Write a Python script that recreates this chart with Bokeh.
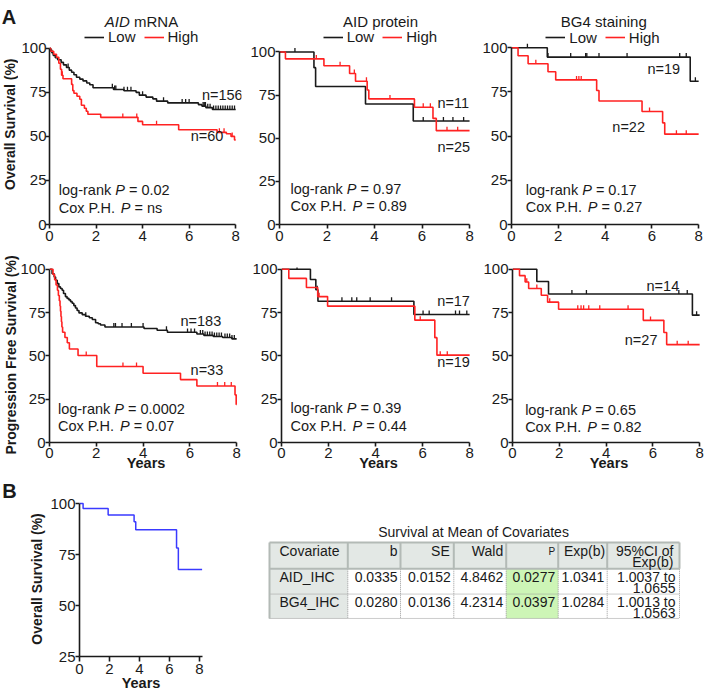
import math
from bokeh.plotting import figure
from bokeh.models import Range1d, Label, Legend, LegendItem, FixedTicker, Title
from bokeh.layouts import row, column
from bokeh.embed import file_html
from bokeh.resources import INLINE
from bokeh.core.properties import value

# ---------------- data ----------------
year_ticks = [0, 2, 4, 6, 8]
surv_ticks = [0, 25, 50, 75, 100]
surv_ticks_b = [25, 50, 75, 100]

# A, top row: overall survival
os_mrna_low_t = [0, 0.05, 0.1, 0.16, 0.25, 0.35, 0.5, 0.6, 0.73, 0.85, 0.95, 1.05, 1.16, 1.3, 1.44, 1.6, 1.73, 1.87, 2.75, 3.2, 3.72, 3.86, 4.15, 4.44, 4.6, 5.08, 6.4, 6.55, 6.72, 7.0, 8.0]
os_mrna_low_s = [100, 99.0, 97.5, 96.0, 94.6, 93.5, 92.0, 90.6, 89.1, 87.6, 86.4, 85.0, 83.6, 82.5, 81.5, 80.3, 79.3, 77.6, 76.6, 75.9, 75.0, 73.4, 72.3, 71.3, 70.0, 69.0, 68.0, 67.2, 66.3, 65.3, 65.3]
os_mrna_low_cens = [0.8, 2.7, 2.8, 2.85, 3.2, 3.35, 3.5, 4.0, 4.9, 5.7, 5.85, 6.0, 6.6, 6.65, 6.7, 6.8, 6.9, 7.05, 7.15, 7.25, 7.35, 7.45, 7.55, 7.65, 7.75, 7.85, 7.95]
os_mrna_high_t = [0, 0.05, 0.18, 0.3, 0.4, 0.47, 0.52, 0.58, 0.95, 1.0, 1.05, 1.18, 1.3, 1.37, 1.5, 1.58, 1.65, 2.2, 3.8, 4.0, 5.55, 7.2, 7.6, 7.8, 7.95, 8.0]
os_mrna_high_s = [100, 98.3, 96.6, 94.9, 91.5, 88.1, 84.7, 82.7, 79.5, 76.0, 74.5, 72.8, 71.1, 67.7, 66.0, 64.3, 62.6, 60.8, 58.5, 56.6, 53.8, 52.3, 51.5, 50.0, 48.0, 48.0]
os_mrna_high_cens = [0.55, 3.15, 3.75, 4.6, 7.3, 7.5, 7.85]

os_prot_low_t = [0, 1.45, 1.52, 3.62, 5.63, 8.0]
os_prot_low_s = [100, 90.9, 80.0, 69.8, 60.0, 60.0]
os_prot_low_cens = [0.65, 6.05, 6.9, 7.3, 7.75]
os_prot_high_t = [0, 0.25, 1.87, 2.95, 3.2, 3.69, 3.76, 5.68, 6.46, 6.6, 8.0]
os_prot_high_s = [100, 96.0, 92.0, 87.5, 83.0, 78.0, 72.8, 68.0, 61.5, 54.4, 54.4]
os_prot_high_cens = [1.55, 2.55, 3.15, 3.66, 4.65, 6.05, 6.35, 7.05, 7.5]

os_bg4_low_t = [0, 1.53, 7.64, 8.0]
os_bg4_low_s = [100, 94.7, 81.0, 81.0]
os_bg4_low_cens = [0.68, 1.56, 2.53, 3.17, 3.22, 3.74, 4.94, 7.19, 7.47, 7.86]
os_bg4_high_t = [0, 0.28, 0.71, 1.56, 1.89, 3.64, 3.74, 5.58, 6.46, 6.55, 8.0]
os_bg4_high_s = [100, 95.5, 90.9, 86.4, 81.8, 75.8, 69.9, 63.9, 57.5, 51.1, 51.1]
os_bg4_high_cens = [1.04, 2.78, 2.88, 2.98, 5.9, 7.05, 7.47]

# A, bottom row: progression free survival
pfs_mrna_low_t = [0, 0.11, 0.2, 0.26, 0.33, 0.4, 0.47, 0.54, 0.6, 0.68, 0.75, 0.83, 0.9, 0.97, 1.04, 1.11, 1.18, 1.26, 1.4, 1.54, 1.7, 1.83, 1.97, 2.08, 2.18, 2.37, 4.04, 4.6, 5.04, 6.3, 6.6, 7.0, 7.4, 7.8, 8.0]
pfs_mrna_low_s = [100, 97.4, 95.5, 93.6, 91.7, 89.8, 88.9, 87.9, 86.0, 84.2, 83.2, 82.3, 81.3, 80.4, 79.0, 77.6, 76.2, 74.8, 73.8, 72.9, 72.0, 71.0, 69.1, 68.5, 67.8, 66.7, 65.8, 64.8, 63.6, 62.6, 61.8, 61.2, 60.6, 59.8, 59.8]
pfs_mrna_low_cens = [1.55, 2.75, 2.82, 3.1, 3.5, 4.0, 5.0, 5.9, 6.05, 6.2, 6.45, 6.55, 6.65, 6.75, 6.85, 6.95, 7.05, 7.15, 7.25, 7.35, 7.5, 7.6, 7.7, 7.8, 7.9]
pfs_mrna_high_t = [0, 0.15, 0.22, 0.28, 0.34, 0.38, 0.42, 0.45, 0.47, 0.49, 0.51, 0.53, 0.56, 0.66, 0.76, 0.85, 1.22, 2.02, 4.0, 5.6, 6.3, 7.93, 7.98, 8.0]
pfs_mrna_high_s = [100, 97.0, 93.9, 90.9, 87.9, 84.8, 81.8, 78.8, 75.8, 72.7, 69.7, 66.7, 63.6, 60.6, 57.6, 54.0, 50.2, 43.9, 40.0, 36.3, 32.6, 27.5, 22.0, 22.0]
pfs_mrna_high_cens = [1.57, 3.14, 3.72, 7.18, 7.49, 7.77]

pfs_prot_low_t = [0, 1.23, 1.46, 1.55, 5.63, 8.0]
pfs_prot_low_s = [100, 94.1, 88.2, 81.5, 73.9, 73.9]
pfs_prot_low_cens = [0.66, 1.52, 2.57, 2.99, 3.2, 3.77, 4.68, 6.02, 6.28, 7.4, 7.57, 7.88]
pfs_prot_high_t = [0, 0.31, 1.06, 1.54, 1.96, 5.67, 6.52, 6.61, 8.0]
pfs_prot_high_s = [100, 94.7, 89.5, 84.2, 78.7, 70.6, 60.5, 50.4, 50.4]
pfs_prot_high_cens = [1.6, 5.9, 6.75, 7.05]

pfs_bg4_low_t = [0, 1.04, 1.54, 7.69, 8.0]
pfs_bg4_low_s = [100, 92.9, 85.7, 73.5, 73.5]
pfs_bg4_low_cens = [2.54, 3.16, 7.11, 7.47, 7.87]
pfs_bg4_high_t = [0, 0.3, 0.54, 0.69, 1.23, 1.5, 1.97, 5.59, 6.47, 6.59, 8.0]
pfs_bg4_high_s = [100, 96.3, 92.6, 88.9, 85.0, 81.0, 76.9, 70.5, 63.5, 56.5, 56.5]
pfs_bg4_high_cens = [0.61, 1.04, 1.59, 2.79, 2.93, 3.04, 3.26, 3.73, 4.94, 5.9, 7.04, 7.51]

# B: survival at mean of covariates
b_t = [0, 0.24, 1.91, 3.64, 3.75, 6.47, 6.59, 8.18]
b_s = [100, 97.6, 94.4, 91.1, 87.1, 78.2, 67.7, 67.7]

panel_titles = ["mRNA", "AID protein", "BG4 staining"]
n_labels = [("n=156", "n=60"), ("n=11", "n=25"), ("n=19", "n=22"),
            ("n=183", "n=33"), ("n=17", "n=19"), ("n=14", "n=27")]
logrank_p = ["= 0.02", "= 0.97", "= 0.17", "= 0.0002", "= 0.39", "= 0.65"]
cox_p = ["= ns", "= 0.89", "= 0.27", "= 0.07", "= 0.44", "= 0.82"]

tbl_title = "Survival at Mean of  Covariates"
tbl_header = ["Covariate", "b", "SE", "Wald", "P", "Exp(b)", "95%CI of"]
tbl_header2 = "Exp(b)"
tbl_cov = ["AID_IHC", "BG4_IHC"]
tbl_b = ["0.0335", "0.0280"]
tbl_se = ["0.0152", "0.0136"]
tbl_wald = ["4.8462", "4.2314"]
tbl_p = ["0.0277", "0.0397"]
tbl_expb = ["1.0341", "1.0284"]
tbl_ci_lo = ["1.0037 to", "1.0013 to"]
tbl_ci_hi = ["1.0655", "1.0563"]

# ---------------- styling / layout helpers ----------------
FONT = "Liberation Sans"
INK = "#1a1a1a"
RED = "#ff2222"
BLUE = "#3a3aff"
FSN = 14.5
FS = "14.5px"
TICK_FS = "15px"

AW = {' ': 278, '%': 889, '(': 333, ')': 333, '-': 333, '.': 278, '=': 584, '_': 556,
      'A': 667, 'B': 667, 'C': 722, 'D': 722, 'G': 778, 'H': 722, 'I': 278, 'L': 556,
      'M': 833, 'N': 722, 'P': 667, 'R': 722, 'S': 667,
      'a': 556, 'b': 556, 'c': 500, 'd': 556, 'e': 556, 'f': 278, 'g': 556, 'h': 556,
      'i': 222, 'k': 500, 'l': 222, 'm': 833, 'n': 556, 'o': 556, 'p': 556, 'r': 333,
      's': 500, 't': 278, 'u': 556, 'v': 500, 'w': 722, 'x': 500}
def tw(s, fs): return sum(AW.get(c, 556) for c in s) * fs / 1000.0


def surv_at(ts, ss, t):
    v = ss[0]
    for a, b in zip(ts, ss):
        if a <= t:
            v = b
    return v


def blank(w, h, xr, yr):
    f = figure(width=w, height=h, x_range=Range1d(*xr), y_range=Range1d(*yr),
               min_border=0, x_axis_location=None, y_axis_location=None, title_location=None,
               output_backend="svg", toolbar_location=None)
    f.grid.visible = False
    f.outline_line_color = None
    return f


def make_km(box, xpix, ypix, xr, ylo, ytop=None, yhi=101, yticks=surv_ticks, ybound=(0, 100)):
    bx0, by0, bx1, by1 = box
    ux = (xpix[1] - xpix[0]) / 8.0
    (va, pa), (vb, pb) = ypix
    uy = (pa - pb) / (vb - va)
    if ytop is not None:
        yhi = va + (pa - ytop) / uy
    fl = xpix[0] + xr[0] * ux
    fr = xpix[0] + xr[1] * ux
    fb = pa - (ylo - va) * uy
    ft = pa - (yhi - va) * uy
    p = figure(width=bx1 - bx0, height=by1 - by0,
               min_border_left=int(round(fl - bx0)), min_border_right=int(round(bx1 - fr)),
               min_border_top=int(round(ft - by0)), min_border_bottom=int(round(by1 - fb)),
               x_range=Range1d(*xr), y_range=Range1d(ylo, yhi), title_location=None,
               output_backend="svg", toolbar_location=None)
    p.grid.visible = False
    p.outline_line_color = None
    p.background_fill_color = "white"
    p.border_fill_color = "white"
    for ax in (p.xaxis[0], p.yaxis[0]):
        ax.axis_line_width = 1.6
        ax.axis_line_color = INK
        ax.major_tick_line_width = 1.6
        ax.major_tick_line_color = INK
        ax.major_tick_out = 4
        ax.major_tick_in = 0
        ax.minor_tick_line_color = None
        ax.major_label_text_font = FONT
        ax.major_label_text_font_size = TICK_FS
        ax.major_label_text_color = INK
        ax.axis_label_text_font = FONT
        ax.axis_label_text_font_style = "bold"
        ax.axis_label_text_font_size = FS
        ax.axis_label_text_color = INK
    p.xaxis.ticker = FixedTicker(ticks=year_ticks)
    p.yaxis.ticker = FixedTicker(ticks=yticks)
    p.xaxis.major_label_standoff = 1
    p.yaxis.major_label_standoff = 0
    p.xaxis.bounds = (0, 8)
    p.yaxis.bounds = ybound
    geom = dict(fl=fl, fb=fb, uy=uy)
    return p, geom


def curve(p, g, ts, ss, cens, color):
    r = p.step(ts, ss, mode="after", line_color=color, line_width=1.6)
    cy = [surv_at(ts, ss, c) for c in cens]
    tick_h = 4.0 / g["uy"]
    p.segment(x0=cens, y0=cy, x1=cens, y1=[v + tick_h for v in cy],
              line_color=color, line_width=1.3)
    # marker used only for the legend sample
    rl = p.scatter(x=[], y=[], marker="dash", angle=math.pi / 2, size=7,
                   line_color=color, line_width=1.3)
    return [r, rl]


def data_text(p, x, y, text, style="normal", xoff=0):
    p.add_layout(Label(x=x, y=y, x_offset=xoff, text=text, text_font=FONT,
                       text_font_style=style, text_font_size=FS,
                       text_baseline="middle", text_color=INK))


def screen_text(p, g, rx, ry, text, style="normal", size="15px", align="left"):
    p.add_layout(Label(x=rx - g["fl"], y=g["fb"] - ry, x_units="screen", y_units="screen",
                       text=text, text_font=FONT, text_font_style=style, text_font_size=size,
                       text_align=align, text_baseline="middle", text_color=INK))


def stats(p, x, y1, y2, lr, cx):
    for y, pre, post in ((y1, "log-rank", lr), (y2, "Cox P.H.", cx)):
        data_text(p, x, y, pre)
        o = tw(pre + " ", FSN)
        data_text(p, x, y, "P", style="italic", xoff=o)
        o += tw("P ", FSN)
        data_text(p, x, y, post, xoff=o)


def legend(p, g, rx, ry, low, high):
    lg = Legend(items=[LegendItem(label="Low", renderers=low),
                       LegendItem(label="High", renderers=high)],
                location=(rx - g["fl"], g["fb"] - ry - 10),
                orientation="horizontal", background_fill_alpha=0, border_line_alpha=0,
                padding=0, margin=0, spacing=8, glyph_width=20, glyph_height=16,
                label_height=16, label_standoff=4, label_text_font=FONT,
                label_text_font_size="15px", label_text_color=INK)
    p.add_layout(lg)


# narrow column carrying the panel letter and the y label of the first plot
YL_W = 18
ylab1 = blank(YL_W, 248, (0, YL_W), (248, 0))
ylab1.add_layout(Label(x=1.2, y=18.2, text="A", text_font=FONT, text_font_style="bold",
                       text_font_size="20px", text_baseline="alphabetic", text_color=INK))
ylab1.add_layout(Label(x=9.5, y=137, text="Overall Survival (%)", angle=math.pi / 2,
                       text_font=FONT, text_font_style="bold", text_font_size="14px",
                       text_align="center", text_baseline="middle", text_color=INK))

# ---------------- panel A ----------------
specs = [
    dict(box=(YL_W, 0, 244, 248), xp=(48, 235), yp=((0, 225), (100, 48))),
    dict(box=(244, 0, 477, 248), xp=(279, 469), yp=((0, 225), (100, 51.7))),
    dict(box=(477, 0, 705, 248), xp=(510.7, 698), yp=((0, 224.3), (100, 47.3))),
    dict(box=(0, 248, 244, 477), xp=(49, 236), yp=((0, 442.7), (100, 265.7))),
    dict(box=(244, 248, 477, 477), xp=(281, 469.5), yp=((0, 442.7), (100, 268.3))),
    dict(box=(477, 248, 705, 477), xp=(512.3, 699), yp=((0, 441.7), (100, 265))),
]
series = [
    (os_mrna_low_t, os_mrna_low_s, os_mrna_low_cens, os_mrna_high_t, os_mrna_high_s, os_mrna_high_cens),
    (os_prot_low_t, os_prot_low_s, os_prot_low_cens, os_prot_high_t, os_prot_high_s, os_prot_high_cens),
    (os_bg4_low_t, os_bg4_low_s, os_bg4_low_cens, os_bg4_high_t, os_bg4_high_s, os_bg4_high_cens),
    (pfs_mrna_low_t, pfs_mrna_low_s, pfs_mrna_low_cens, pfs_mrna_high_t, pfs_mrna_high_s, pfs_mrna_high_cens),
    (pfs_prot_low_t, pfs_prot_low_s, pfs_prot_low_cens, pfs_prot_high_t, pfs_prot_high_s, pfs_prot_high_cens),
    (pfs_bg4_low_t, pfs_bg4_low_s, pfs_bg4_low_cens, pfs_bg4_high_t, pfs_bg4_high_s, pfs_bg4_high_cens),
]
n_pos = [((6.55, 73.4), (6.07, 50.4)), ((6.65, 70.2), (6.65, 45.2)), ((5.81, 88.1), (4.31, 55.1)),
         ((5.6, 70.3), (6.03, 42.0)), ((6.62, 81.8), (6.62, 46.5)), ((5.73, 90.6), (4.8, 59.1))]
stat_pos = [(0.4, 19.8, 9.6), (0.46, 20.6, 10.6), (0.61, 19.8, 9.9),
            (0.36, 19.5, 9.5), (0.38, 19.7, 9.8), (0.54, 18.9, 9.0)]
legend_x = [83, 322.7, 545]
title_cx = [140, 380, 603]
TITLE_Y = 21.7
LEG_Y = 36

figs = []
for i, sp in enumerate(specs):
    if i < 3:
        p, g = make_km(sp["box"], sp["xp"], sp["yp"], (0, 8.25), 0, ytop=0)
        p.xaxis.major_label_standoff = 2
    else:
        p, g = make_km(sp["box"], sp["xp"], sp["yp"], (0, 8.25), 0, yhi=101)
    lt, ls, lc, ht, hs, hc = series[i]
    low = curve(p, g, lt, ls, lc, INK)
    high = curve(p, g, ht, hs, hc, RED)
    (a, b) = n_pos[i]
    data_text(p, a[0], a[1], n_labels[i][0])
    data_text(p, b[0], b[1], n_labels[i][1])
    stats(p, stat_pos[i][0], stat_pos[i][1], stat_pos[i][2], logrank_p[i], cox_p[i])
    if i < 3:
        legend(p, g, legend_x[i], LEG_Y, low, high)
        if i == 0:
            p.yaxis.major_label_standoff = -1
            w1 = tw("AID ", 15)
            w2 = tw(panel_titles[0], 15)
            tx0 = title_cx[0] - (w1 + w2) / 2
            screen_text(p, g, tx0, TITLE_Y, "AID", style="italic")
            screen_text(p, g, tx0 + w1, TITLE_Y, panel_titles[0])
        else:
            screen_text(p, g, title_cx[i], TITLE_Y, panel_titles[i], align="center")
    else:
        p.xaxis.axis_label = "Years"
        p.xaxis.axis_label_standoff = -6
        if i == 3:
            p.yaxis.axis_label = "Progression Free Survival (%)"
            p.yaxis.axis_label_text_font_size = "14px"
            p.yaxis.axis_label_standoff = -2
    figs.append(p)

# ---------------- panel B ----------------
pb, gb = make_km((0, 477, 244, 693), (78.7, 199), ((25, 656.7), (100, 501.7)),
                 (0, 8.2), 25, yhi=101, yticks=surv_ticks_b, ybound=(25, 100))
pb.xaxis.bounds = (0, 8.2)
pb.xaxis.major_tick_out = 5
pb.xaxis.major_label_standoff = 2
pb.step(b_t, b_s, mode="after", line_color=BLUE, line_width=1.5)
pb.xaxis.axis_label = "Years"
pb.xaxis.axis_label_standoff = -2
pb.yaxis.axis_label = "Overall Survival (%)"
pb.yaxis.axis_label_text_font_size = "14px"
pb.yaxis.axis_label_standoff = 2
pb.add_layout(Title(text="B", align="left", offset=1.5 - gb["fl"], vertical_align="bottom",
                    standoff=0, text_font=FONT, text_font_style="bold",
                    text_font_size="20px", text_color=INK), "above")

# ---------------- table ----------------
tb = blank(461, 216, (244, 705), (693, 477))

col_w = [78.3, 52.7, 53.3, 52.4, 52.0, 49.0, 72.3]
row_h = [36.7, 35.3, 34.0]
tx, ty = 269.0, 534.0
cols = [tx]
for w in col_w:
    cols.append(cols[-1] + w)
rows_ = [ty]
for h in row_h:
    rows_.append(rows_[-1] + h)

GRAY_BG = "#e3e8e5"
GREEN_BG = "#cdf5b6"
tb.quad(left=[cols[0], cols[0], cols[4]], right=[cols[-1], cols[1], cols[5]],
        top=[rows_[0], rows_[1], rows_[1]], bottom=[rows_[1], rows_[-1], rows_[-1]],
        fill_color=[GRAY_BG, GRAY_BG, GREEN_BG], line_color=None)

dx0, dx1, dy0, dy1 = [], [], [], []
for r in rows_[2:]:
    dx0.append(cols[0]); dx1.append(cols[-1]); dy0.append(r); dy1.append(r)
for c in cols[1:]:
    dx0.append(c); dx1.append(c); dy0.append(rows_[1]); dy1.append(rows_[-1])
tb.segment(x0=dx0, y0=dy0, x1=dx1, y1=dy1, line_color="#9a9a9a", line_width=1, line_dash="1 1")
sx0, sx1, sy0, sy1 = [], [], [], []
for c in cols[1:]:
    sx0.append(c); sx1.append(c); sy0.append(rows_[0]); sy1.append(rows_[1])
sx0 += [cols[0], cols[0], cols[0]]
sx1 += [cols[-1], cols[-1], cols[0]]
sy0 += [rows_[0], rows_[1], rows_[0]]
sy1 += [rows_[0], rows_[1], rows_[-1]]
tb.segment(x0=sx0, y0=sy0, x1=sx1, y1=sy1, line_color="#b3bab6", line_width=2)

tfont = value(FONT)
TFS = value("14px")
tb.text(x=[475], y=[520], text=[tbl_title], text_font=tfont, text_font_size=TFS,
        text_align="center", text_baseline="middle", text_color=INK)
hy = rows_[0] + 12
tb.text(x=[cols[0] + 10], y=[hy], text=[tbl_header[0]], text_font=tfont,
        text_font_size=TFS, text_align="left", text_baseline="middle", text_color=INK)
pads = [3, 4, 3, 3, 2, 6]
hx = [cols[k + 1] - pads[k - 1] for k in range(1, 7)]
big = [tbl_header[k] for k in (1, 2, 3, 5, 6)]
bigx = [hx[0], hx[1], hx[2], hx[4], hx[5]]
tb.text(x=bigx, y=[hy] * 5, text=big, text_font=tfont, text_font_size=TFS,
        text_align="right", text_baseline="middle", text_color=INK)
tb.text(x=[hx[3]], y=[hy], text=[tbl_header[4]], text_font=tfont, text_font_size=value("10px"),
        text_align="right", text_baseline="middle", text_color=INK)
tb.text(x=[hx[5]], y=[hy + 15], text=[tbl_header2], text_font=tfont, text_font_size=TFS,
        text_align="right", text_baseline="middle", text_color=INK)
for r in range(2):
    y1 = rows_[r + 1] + 11
    y2 = y1 + 15.5
    tb.text(x=[cols[0] + 10], y=[y1], text=[tbl_cov[r]], text_font=tfont,
            text_font_size=TFS, text_align="left", text_baseline="middle", text_color=INK)
    vals = [tbl_b[r], tbl_se[r], tbl_wald[r], tbl_p[r], tbl_expb[r], tbl_ci_lo[r]]
    vx = [cols[k + 1] - 3 for k in range(1, 6)] + [cols[7] - 4]
    tb.text(x=vx, y=[y1] * 6, text=vals, text_font=tfont, text_font_size=TFS,
            text_align="right", text_baseline="middle", text_color=INK)
    tb.text(x=[cols[7] - 4], y=[y2], text=[tbl_ci_hi[r]], text_font=tfont,
            text_font_size=TFS, text_align="right", text_baseline="middle", text_color=INK)

layout = column(row(ylab1, figs[0], figs[1], figs[2]),
                row(figs[3], figs[4], figs[5]),
                row(pb, tb))
open("out.html", "w").write(file_html(layout, INLINE, title="Survival"))
